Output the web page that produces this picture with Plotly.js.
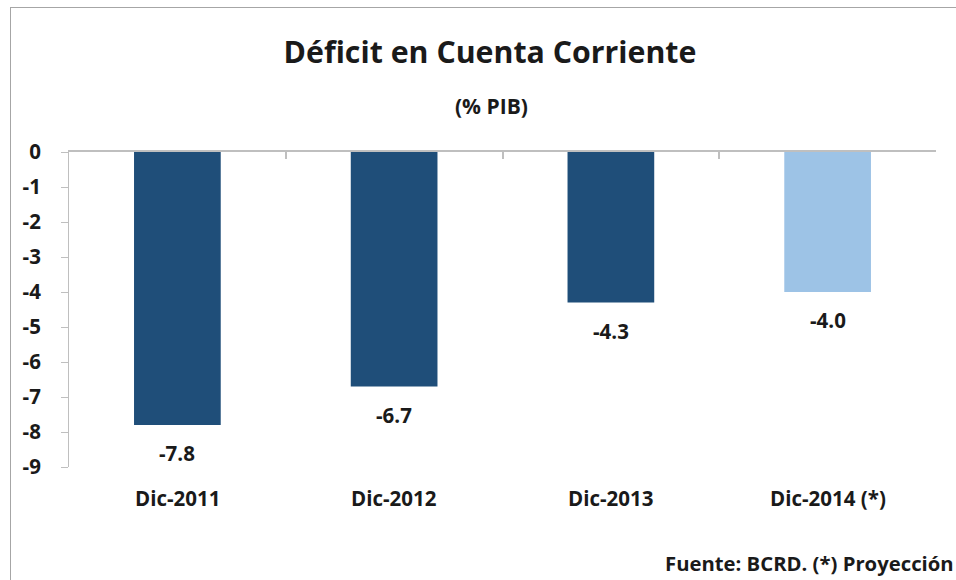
<!DOCTYPE html>
<html>
<head>
<meta charset="utf-8">
<script src="https://cdn.plot.ly/plotly-3.0.1.min.js"></script>
<style>
  html, body { margin: 0; padding: 0; background: #fff; }
  #wrap { position: relative; width: 956px; height: 580px; }
  #frame { position: absolute; left: 10px; top: 7px; right: -5px; bottom: -5px; border-left: 1px solid #a6a6a6; border-top: 1px solid #a6a6a6; pointer-events: none; }
  #chart { position: absolute; left: 0; top: 0; width: 956px; height: 580px; }
</style>
</head>
<body>
<div id="wrap">
  <div id="chart"></div>
  <div id="frame"></div>
</div>
<script>
const categories = ["Dic-2011", "Dic-2012", "Dic-2013", "Dic-2014 (*)"];
const values = [-7.8, -6.7, -4.3, -4.0];
const barColors = ["#1f4e79", "#1f4e79", "#1f4e79", "#9dc3e6"];
const valueLabels = ["-7.8", "-6.7", "-4.3", "-4.0"];
const yTicks = [0, -1, -2, -3, -4, -5, -6, -7, -8, -9];
const titleText = "Déficit en Cuenta Corriente";
const subtitleText = "(% PIB)";
const sourceText = "Fuente: BCRD. (*) Proyección";

const FONT = "'Open Sans', Lato, sans-serif";
const txt = "#1a1a1a";

const annotations = [];
categories.forEach((c, i) => {
  annotations.push({
    x: c, y: values[i], xref: "x", yref: "y",
    text: "<b>" + valueLabels[i] + "</b>", showarrow: false,
    yanchor: "middle", yshift: -28,
    font: { family: FONT, size: 20.5, color: txt }
  });
  annotations.push({
    x: c, y: 0, xref: "x", yref: "paper",
    text: "<b>" + c + "</b>", showarrow: false,
    yanchor: "middle", yshift: -31,
    font: { family: FONT, size: 20.5, color: txt }
  });
});
annotations.push({
  x: 0.5, y: 1, xref: "paper", yref: "paper",
  text: "<b>" + subtitleText + "</b>", showarrow: false,
  xshift: -11, yanchor: "middle", yshift: 46,
  font: { family: FONT, size: 21, color: txt }
});
annotations.push({
  x: 1, y: 0, xref: "paper", yref: "paper",
  text: "<b>" + sourceText + "</b>", showarrow: false,
  xanchor: "right", xshift: 20, yanchor: "middle", yshift: -96,
  font: { family: FONT, size: 20.3, color: txt }
});

const data = [{
  type: "bar",
  x: categories,
  y: values,
  marker: { color: barColors },
  width: 0.4,
  hoverinfo: "skip"
}];

const layout = {
  width: 956, height: 580,
  margin: { l: 69, r: 20, t: 152, b: 113 },
  paper_bgcolor: "#fff", plot_bgcolor: "#fff",
  showlegend: false,
  title: {
    text: "<b>" + titleText + "</b>",
    x: 490 / 956, xref: "container", xanchor: "center",
    y: 1 - 52 / 580, yref: "container", yanchor: "middle",
    font: { family: FONT, size: 30.3, color: txt }
  },
  xaxis: {
    type: "category",
    categoryarray: categories,
    range: [-0.5, 3.5],
    side: "top",
    showticklabels: false,
    showline: true, linecolor: "#bfbfbf", linewidth: 2,
    ticks: "inside", tickson: "boundaries", ticklen: 7, tickcolor: "#bfbfbf", tickwidth: 2,
    showgrid: false, zeroline: false, fixedrange: true
  },
  yaxis: {
    range: [-9, 0],
    tickvals: yTicks,
    ticktext: yTicks.map(v => "<b>" + v + "</b>"),
    showline: true, linecolor: "#bfbfbf", linewidth: 1,
    ticks: "outside", ticklen: 7, tickcolor: "#bfbfbf",
    ticklabelstandoff: 16,
    showgrid: false, zeroline: false, fixedrange: true,
    tickfont: { family: FONT, size: 20.5, color: txt }
  },
  annotations: annotations
};

Plotly.newPlot("chart", data, layout, { displayModeBar: false, staticPlot: true });
</script>
</body>
</html>
